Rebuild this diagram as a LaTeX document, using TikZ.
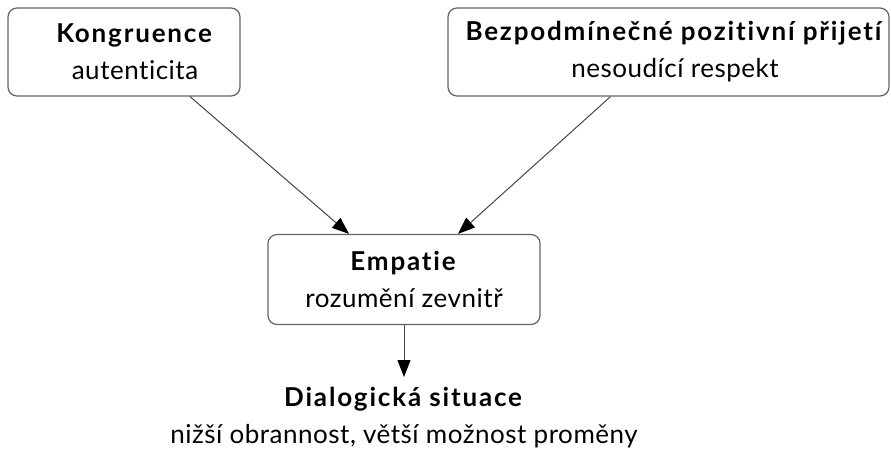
\documentclass[tikz,border=0pt]{standalone}
\usepackage{fontspec}
\setmainfont{Lato}[Ligatures=NoCommon, LetterSpace=2, BoldFeatures={LetterSpace=7}]
\usetikzlibrary{arrows.meta}

\definecolor{boxgray}{RGB}{100,100,100}
\definecolor{linegray}{RGB}{70,70,70}

\begin{document}
\begin{tikzpicture}[x=1pt, y=-1pt,
        >={Triangle[length=17pt, width=13pt, color=black]},
        box/.style={draw=boxgray, line width=1.2pt, rounded corners=9pt, inner sep=0pt},
        txt/.style={align=center, inner sep=0pt, font=\fontsize{26}{37}\selectfont},
        conn/.style={->, draw=linegray, line width=1pt}]

    \useasboundingbox (0,0) rectangle (891,451);

    % --- horni dvojice podminek ---
    \node[box, minimum width=232pt, minimum height=88pt] (kongr) at (124,52) {};
    \node[txt] (kongrtext) at (135,52) {\textbf{Kongruence}\\autenticita};

    \node[box, minimum width=441pt, minimum height=88pt] (prijeti) at (668.5,52) {};
    \node[txt] (prijetitext) at (675,52)
        {\textbf{Bezpodmínečné pozitivní přijetí}\\nesoudící respekt};

    % --- empatie uprostred ---
    \node[box, minimum width=272pt, minimum height=90pt] (empatie) at (404,279.5) {};
    \node[txt] (empatietext) at (404,279.5) {\textbf{Empatie}\\rozumění zevnitř};

    % --- vysledek ---
    \node[txt] (dialog) at (404,418)
        {\textbf{Dialogická situace}\\nižší obrannost, větší možnost proměny};
    \coordinate (dialogtop) at (404,377);

    % --- spojnice ---
    \draw[conn] ([xshift=66pt]kongr.south) -- ([xshift=-55pt]empatie.north);
    \draw[conn] ([xshift=-58pt]prijeti.south) -- ([xshift=54pt]empatie.north);
    \draw[conn] (empatie.south) -- (dialogtop);

\end{tikzpicture}
\end{document}
